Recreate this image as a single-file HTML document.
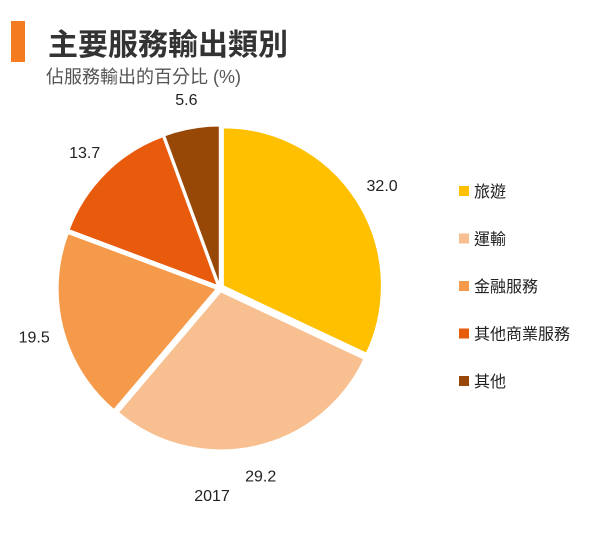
<!DOCTYPE html>
<html><head><meta charset="utf-8"><style>
body{margin:0;background:#fff;width:600px;height:535px;overflow:hidden;font-family:"Liberation Sans","Noto Sans CJK TC",sans-serif;}
svg{display:block}
</style></head><body>
<svg width="600" height="535">
<rect x="11" y="21" width="14" height="41" fill="#F47B20"/>
<text x="48" y="55" font-size="30" font-weight="bold" fill="#333" font-family="Liberation Sans,Noto Sans CJK TC,sans-serif">主要服務輸出類別</text>
<text x="46" y="83" font-size="18" fill="#555" font-family="Liberation Sans,Noto Sans CJK TC,sans-serif">佔服務輸出的百分比 (%)</text>
<g id="pie"></g>
<g id="legend"></g>
<text x="212" y="501" font-size="16" fill="#222" text-anchor="middle">2017</text>
</svg>
<script>
const categories=["旅遊","運輸","金融服務","其他商業服務","其他"];
const values=[32.0,29.2,19.5,13.7,5.6];
const labels=["32.0","29.2","19.5","13.7","5.6"];
const colors=["#FFC000","#F8C090","#F59A4A","#E85A0C","#974706"];
const NS="http://www.w3.org/2000/svg";
const cx=220,cy=288,r=158,gap=4;
const total=values.reduce((a,b)=>a+b,0);
const pie=document.getElementById('pie');
let acc=0;
function pt(a,rr,ox,oy){return [ox+rr*Math.sin(a),oy-rr*Math.cos(a)];}
values.forEach((v,i)=>{
  const a0=acc/total*2*Math.PI; acc+=v; const a1=acc/total*2*Math.PI;
  const mid=(a0+a1)/2;
  const ox=cx+gap*Math.sin(mid), oy=cy-gap*Math.cos(mid);
  const p0=pt(a0,r,ox,oy), p1=pt(a1,r,ox,oy);
  const large=(a1-a0)>Math.PI?1:0;
  const path=document.createElementNS(NS,'path');
  path.setAttribute('d',`M${ox},${oy}L${p0[0]},${p0[1]}A${r},${r} 0 ${large} 1 ${p1[0]},${p1[1]}Z`);
  path.setAttribute('fill',colors[i]);
  path.setAttribute('stroke','#fff');path.setAttribute('stroke-width','1');
  
  
  pie.appendChild(path);
  const lp=pt(mid,192,cx,cy);
  const t=document.createElementNS(NS,'text');
  t.setAttribute('x',lp[0]);t.setAttribute('y',lp[1]+6);
  t.setAttribute('text-anchor','middle');t.setAttribute('font-size','16');t.setAttribute('fill','#222');
  t.textContent=labels[i];
  
  
  pie.appendChild(t);
});
const lg=document.getElementById('legend');
categories.forEach((c,i)=>{
  const y=191+i*47.5;
  const g=document.createElementNS(NS,'g');
  
  
  const s=document.createElementNS(NS,'rect');
  s.setAttribute('x',459);s.setAttribute('y',y-5);s.setAttribute('width',10);s.setAttribute('height',10);s.setAttribute('fill',colors[i]);
  
  
  const t=document.createElementNS(NS,'text');
  t.setAttribute('x',474);t.setAttribute('y',y+6);t.setAttribute('font-size','16');t.setAttribute('fill','#222');
  t.textContent=c;
  
  
  g.appendChild(s);g.appendChild(t);lg.appendChild(g);
});
</script>
</body></html>
